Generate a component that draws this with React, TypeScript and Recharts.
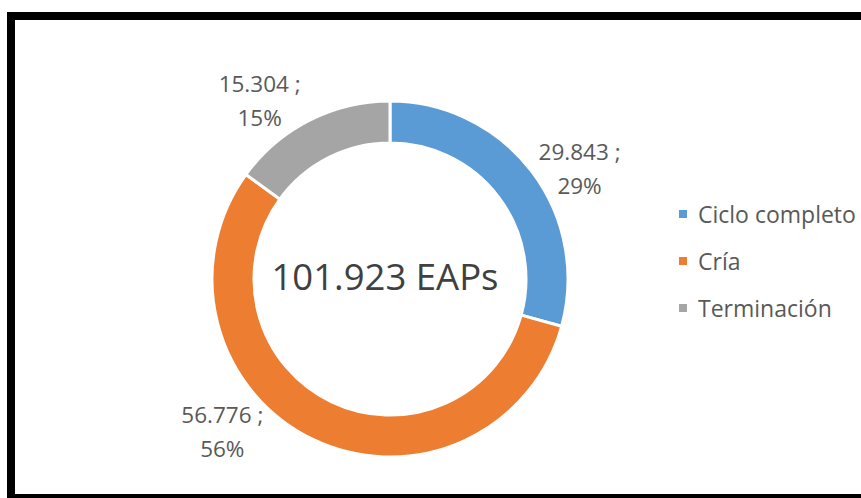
import { PieChart, Pie, Cell, Legend } from "recharts";

const categories = ["Ciclo completo", "Cría", "Terminación"];
const values = [29843, 56776, 15304];
const colors = ["#5B9BD5", "#ED7D31", "#A5A5A5"];

// Excel moves the outside labels a bit off the slice middle
const labelNudge = [
  { angle: -7.7, radius: 218 },
  { angle: -21.4, radius: 229 },
  { angle: 9.5, radius: 219 },
];

const total = values.reduce((s, v) => s + v, 0);
const data = categories.map((name, i) => ({ name, value: values[i] }));

const FONT = "'Open Sans', 'DejaVu Sans', sans-serif";
const RADIAN = Math.PI / 180;
const CX = 385;
const CY = 274;

function fmt(n: number): string {
  return String(n).replace(/\B(?=(\d{3})+(?!\d))/g, ".");
}

function renderLabel(props: any) {
  const { cx, cy, midAngle, index, value } = props;
  const nudge = labelNudge[index];
  const a = (midAngle + nudge.angle) * RADIAN;
  const x = cx + nudge.radius * Math.cos(a);
  const y = cy - nudge.radius * Math.sin(a) - 3;
  const pct = Math.round((value / total) * 100);
  return (
    <text
      x={x}
      y={y}
      textAnchor="middle"
      fill="#595959"
      style={{ fontFamily: FONT, fontSize: 22.5 }}
    >
      <tspan x={x} y={y - 17} dominantBaseline="central">{`${fmt(value)} ;`}</tspan>
      <tspan x={x} y={y + 17} dominantBaseline="central">{`${pct}%`}</tspan>
    </text>
  );
}

function LegendContent() {
  return (
    <div style={{ fontFamily: FONT, fontSize: 23, color: "#595959" }}>
      {categories.map((c, i) => (
        <div key={c} style={{ display: "flex", alignItems: "center", height: 47 }}>
          <span
            style={{ width: 8, height: 8, background: colors[i], marginRight: 11, display: "inline-block" }}
          />
          <span>{c}</span>
        </div>
      ))}
    </div>
  );
}

export default function App() {
  return (
    <div
      style={{
        position: "fixed", left: 0, top: 0, width: 861, height: 498,
        background: "#fff", overflow: "hidden",
      }}
    >
      <div
        style={{
          position: "absolute", left: 7, top: 12, width: 900, height: 490,
          border: "8px solid #000", boxSizing: "border-box",
        }}
      />
      <div style={{ position: "absolute", left: 0, top: 0 }}>
        <PieChart width={861} height={498}>
          <Pie
            data={data}
            dataKey="value"
            nameKey="name"
            cx={CX}
            cy={CY}
            innerRadius={136}
            outerRadius={178}
            startAngle={90}
            endAngle={-270}
            stroke="#fff"
            strokeWidth={3}
            label={renderLabel}
            labelLine={false}
            isAnimationActive={false}
          >
            {data.map((d, i) => (
              <Cell key={d.name} fill={colors[i]} />
            ))}
          </Pie>
          <Legend
            layout="vertical"
            content={<LegendContent />}
            wrapperStyle={{ left: 679, top: 190, width: 182 }}
          />
        </PieChart>
      </div>
      {/* total in the hole of the donut */}
      <div
        style={{
          position: "absolute", left: CX - 150, top: CY - 28, width: 300, height: 60,
          display: "flex", alignItems: "center", justifyContent: "center",
          fontFamily: FONT, fontSize: 36.5, color: "#404040", whiteSpace: "nowrap",
        }}
      >
        {`${fmt(total)} EAPs`}
      </div>
    </div>
  );
}
